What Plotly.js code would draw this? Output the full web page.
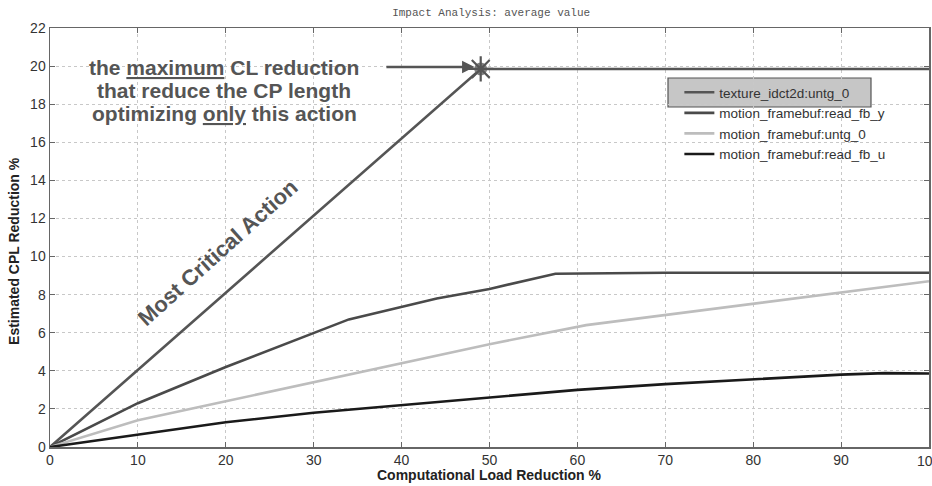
<!DOCTYPE html>
<html><head><meta charset="utf-8">
<script src="https://cdn.plot.ly/plotly-3.0.1.min.js"></script>
<style>body{margin:0;background:#fff}#c{width:932px;height:486px}</style>
</head><body><div id="c"></div>
<script>
const seriesNames = ["texture_idct2d:untg_0","motion_framebuf:read_fb_y","motion_framebuf:untg_0","motion_framebuf:read_fb_u"];
const textureX = [0, 49, 100];
const textureY = [0, 19.85, 19.85];
const fbYX = [0, 10, 20, 25, 34, 44, 50, 57.5, 70, 100];
const fbYY = [0, 2.3, 4.2, 5.1, 6.7, 7.8, 8.3, 9.1, 9.15, 9.15];
const untgX = [0, 10, 20, 30, 40, 50, 61, 67, 80, 90, 100];
const untgY = [0, 1.4, 2.4, 3.4, 4.4, 5.4, 6.4, 6.75, 7.5, 8.1, 8.7];
const fbUX = [0, 10, 20, 30, 40, 50, 60, 70, 80, 90, 95, 100];
const fbUY = [0, 0.65, 1.3, 1.8, 2.2, 2.6, 3.0, 3.3, 3.55, 3.8, 3.88, 3.86];
const xTicks = [0,10,20,30,40,50,60,70,80,90,100];
const yTicks = [0,2,4,6,8,10,12,14,16,18,20,22];
const peakIndex = 1;
const noteLines = ['<b>the <u>maximum</u> CL reduction</b>','<b>that reduce the CP length</b>','<b>optimizing <u>only</u> this action</b>'];

const colors = ["#555555","#4a4a4a","#bdbdbd","#1a1a1a"];
const xs = [textureX, fbYX, untgX, fbUX];
const ys = [textureY, fbYY, untgY, fbUY];
const traces = seriesNames.map((n,i)=>({
  x: xs[i], y: ys[i], name: n, type:'scatter', mode:'lines',
  line:{color:colors[i], width:2.6}
}));
traces.push({x:[textureX[peakIndex]], y:[textureY[peakIndex]], mode:'markers', showlegend:false,
  marker:{symbol:'circle', size:13, color:'#808080', line:{width:0}}});
traces.push({x:[textureX[peakIndex]], y:[textureY[peakIndex]], mode:'markers', showlegend:false,
  marker:{symbol:'asterisk-open', size:21, color:'#555', line:{color:'#555', width:2.2}}});

const fontFam = 'Liberation Sans, Arial, sans-serif';
const ax = {ticks:'inside', ticklen:5, tickcolor:'#666',
    showline:true, linecolor:'#666', linewidth:1.5, mirror:'ticks', showgrid:true, gridcolor:'#c8c8c8', griddash:'dot', gridwidth:1,
    zeroline:false, tickfont:{family:fontFam, size:14, color:'#333'}};
const annotations = noteLines.map((t,i)=>({
  x:19.8, y:19.95 - i*1.22, xref:'x', yref:'y', showarrow:false, xanchor:'center', yanchor:'middle',
  text:t, font:{family:fontFam, size:21, color:'#555'}}));
annotations.push({x:48.3, y:19.95, ax:38.1, ay:19.95, xref:'x', yref:'y', axref:'x', ayref:'y', text:'', showarrow:true,
     arrowhead:2, arrowsize:1, arrowwidth:2.5, arrowcolor:'#555'});
annotations.push({x:19.1, y:10.2, xref:'x', yref:'y', showarrow:false, textangle:-42,
     text:'<b>Most Critical Action</b>', font:{family:fontFam, size:22, color:'#555'}});
annotations.push({x:100, y:0, xref:'x', yref:'paper', yshift:-4, showarrow:false, xanchor:'center', yanchor:'top',
     text:String(xTicks[xTicks.length-1]), font:{family:fontFam, size:14, color:'#333'}});
annotations.push({x:(489-50)/879, y:-0.067, xref:'paper', yref:'paper', showarrow:false, xanchor:'center', yanchor:'middle',
     text:'<b>Computational Load Reduction %</b>', font:{family:fontFam, size:14, color:'#222'}});
annotations.push({x:-0.041, y:(447-251)/419, xref:'paper', yref:'paper', showarrow:false, xanchor:'center', yanchor:'middle', textangle:-90,
     text:'<b>Estimated CPL Reduction %</b>', font:{family:fontFam, size:14, color:'#222'}});

const layout = {
  width:932, height:486,
  margin:{l:50, r:3, t:28, b:39},
  paper_bgcolor:'#fff', plot_bgcolor:'#fff',
  title:{text:'Impact Analysis: average value', font:{family:'Liberation Mono, Courier New, monospace', size:11, color:'#555'}, x:0.527, xanchor:'center', y:0.975, yanchor:'middle'},
  showlegend:true,
  legend:{x:0.716, y:0.883, xanchor:'left', yanchor:'top', bgcolor:'rgba(0,0,0,0)', borderwidth:0,
    font:{family:fontFam, size:13.5, color:'#333'}, tracegroupgap:0, itemwidth:30},
  xaxis:Object.assign({range:[0,100], tickvals:xTicks.slice(0,-1), ticktext:xTicks.slice(0,-1).map(String)}, ax),
  yaxis:Object.assign({range:[0,22], tickvals:yTicks, ticktext:yTicks.map(String)}, ax),
  shapes:[{type:'rect', xref:'paper', yref:'paper', x0:(668-50)/879, x1:(871-50)/879, y0:(447-107)/419, y1:(447-78)/419,
    fillcolor:'#c6c6c6', line:{color:'#555', width:1.2}, layer:'below'}],
  annotations:annotations
};
Plotly.newPlot('c', traces, layout, {displayModeBar:false, staticPlot:true});
</script></body></html>
